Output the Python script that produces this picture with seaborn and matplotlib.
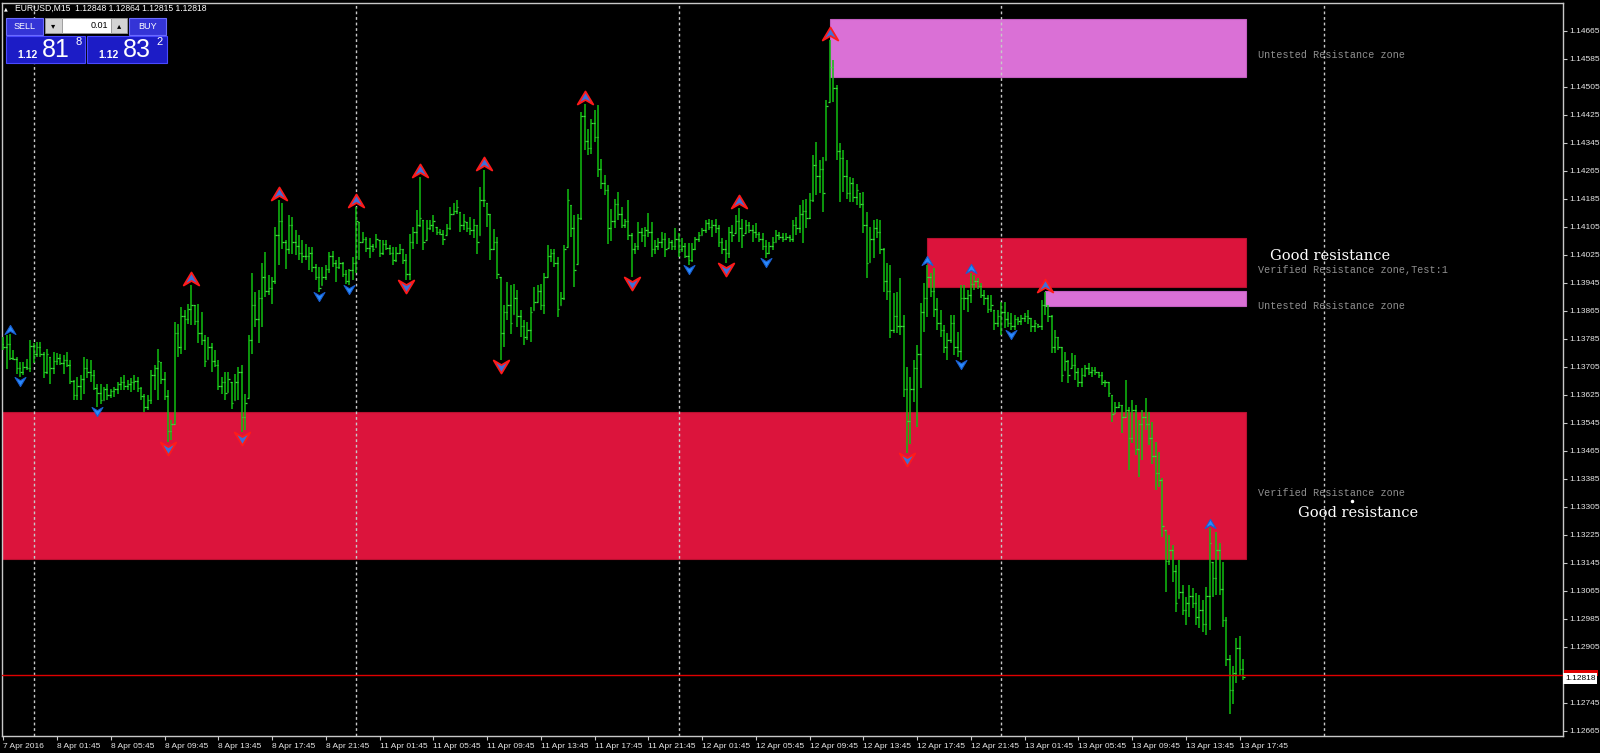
import numpy as np
import pandas as pd
import matplotlib
matplotlib.use("Agg")
import matplotlib.pyplot as plt
from matplotlib.path import Path
from matplotlib.patches import Rectangle
from matplotlib.markers import MarkerStyle
from matplotlib.transforms import blended_transform_factory
import seaborn as sns

# ---------------- data ----------------
symbol_label = "EURUSD,M15"
header_quotes = ["1.12848", "1.12864", "1.12815", "1.12818"]
first_bar_time = "2016-04-07 21:45"
first_open = 1.13770

highs = [
 1.13790, 1.13795, 1.13799, 1.13752, 1.13733, 1.13718, 1.13718, 1.13728, 1.13782, 1.13771,
 1.13775, 1.13775, 1.13747, 1.13756, 1.13733, 1.13747, 1.13744, 1.13742, 1.13737, 1.13747,
 1.13723, 1.13666, 1.13676, 1.13680, 1.13733, 1.13728, 1.13723, 1.13695, 1.13656, 1.13656,
 1.13647, 1.13656, 1.13642, 1.13647, 1.13661, 1.13676, 1.13680, 1.13666, 1.13671, 1.13680,
 1.13676, 1.13647, 1.13628, 1.13623, 1.13695, 1.13709, 1.13756, 1.13718, 1.13690, 1.13637,
 1.13552, 1.13833, 1.13828, 1.13876, 1.13866, 1.13885, 1.13937, 1.13880, 1.13885, 1.13861,
 1.13795, 1.13790, 1.13771, 1.13752, 1.13723, 1.13676, 1.13690, 1.13690, 1.13661, 1.13685,
 1.13704, 1.13709, 1.13628, 1.13795, 1.13971, 1.13918, 1.13923, 1.14000, 1.14033, 1.13966,
 1.13961, 1.14104, 1.14180, 1.14171, 1.14066, 1.14137, 1.14133, 1.14095, 1.14080, 1.14066,
 1.14056, 1.14047, 1.14047, 1.13999, 1.13990, 1.13990, 1.13994, 1.14033, 1.14035, 1.14009,
 1.14018, 1.14004, 1.13980, 1.13985, 1.14018, 1.14161, 1.14118, 1.14090, 1.14075, 1.14071,
 1.14056, 1.14085, 1.14066, 1.14066, 1.14066, 1.14052, 1.14047, 1.14047, 1.14056, 1.14042,
 1.14028, 1.14085, 1.14104, 1.14152, 1.14247, 1.14123, 1.14123, 1.14123, 1.14137, 1.14104,
 1.14099, 1.14094, 1.14113, 1.14161, 1.14171, 1.14180, 1.14147, 1.14142, 1.14118, 1.14133,
 1.14128, 1.14109, 1.14218, 1.14266, 1.14171, 1.14142, 1.14099, 1.14075, 1.13961, 1.13880,
 1.13947, 1.13937, 1.13942, 1.13923, 1.13866, 1.13837, 1.13833, 1.13875, 1.13933, 1.13937,
 1.13942, 1.13971, 1.14052, 1.14042, 1.14042, 1.14018, 1.13918, 1.14052, 1.14213, 1.14166,
 1.14137, 1.14142, 1.14433, 1.14456, 1.14385, 1.14413, 1.14437, 1.14452, 1.14299, 1.14252,
 1.14223, 1.14155, 1.14185, 1.14205, 1.14162, 1.14128, 1.14181, 1.14086, 1.14057, 1.14119,
 1.14100, 1.14105, 1.14143, 1.14119, 1.14067, 1.14071, 1.14090, 1.14086, 1.14071, 1.14067,
 1.14100, 1.14086, 1.14071, 1.14057, 1.14057, 1.14057, 1.14076, 1.14090, 1.14100, 1.14125,
 1.14128, 1.14124, 1.14128, 1.14109, 1.14071, 1.14067, 1.14105, 1.14109, 1.14138, 1.14157,
 1.14128, 1.14124, 1.14119, 1.14109, 1.14114, 1.14090, 1.14086, 1.14067, 1.14062, 1.14076,
 1.14095, 1.14090, 1.14086, 1.14086, 1.14081, 1.14124, 1.14133, 1.14166, 1.14181, 1.14185,
 1.14200, 1.14309, 1.14347, 1.14295, 1.14305, 1.14466, 1.14638, 1.14581, 1.14509, 1.14343,
 1.14324, 1.14295, 1.14247, 1.14243, 1.14228, 1.14200, 1.14205, 1.14147, 1.14105, 1.14124,
 1.14128, 1.14124, 1.14043, 1.14000, 1.13995, 1.13914, 1.13919, 1.13957, 1.13852, 1.13705,
 1.13676, 1.13724, 1.13767, 1.13886, 1.13943, 1.13995, 1.13971, 1.13986, 1.13900, 1.13867,
 1.13824, 1.13800, 1.13852, 1.13852, 1.13805, 1.13938, 1.13938, 1.13924, 1.13971, 1.13967,
 1.13957, 1.13943, 1.13924, 1.13909, 1.13909, 1.13867, 1.13867, 1.13890, 1.13890, 1.13862,
 1.13857, 1.13852, 1.13848, 1.13852, 1.13857, 1.13867, 1.13843, 1.13838, 1.13828, 1.13895,
 1.13919, 1.13881, 1.13852, 1.13809, 1.13790, 1.13762, 1.13748, 1.13724, 1.13743, 1.13738,
 1.13700, 1.13700, 1.13709, 1.13714, 1.13705, 1.13705, 1.13690, 1.13690, 1.13667, 1.13662,
 1.13624, 1.13605, 1.13605, 1.13595, 1.13667, 1.13590, 1.13610, 1.13595, 1.13552, 1.13581,
 1.13614, 1.13576, 1.13548, 1.13490, 1.13462, 1.13386, 1.13238, 1.13224, 1.13195, 1.13138,
 1.13152, 1.13081, 1.13048, 1.13081, 1.13071, 1.13057, 1.13052, 1.13038, 1.13076, 1.13243,
 1.13148, 1.13233, 1.13200, 1.13148, 1.12990, 1.12880, 1.12850, 1.12930, 1.12935, 1.12870,
]

lows = [
 1.13752, 1.13699, 1.13723, 1.13723, 1.13685, 1.13676, 1.13680, 1.13695, 1.13690, 1.13714,
 1.13733, 1.13733, 1.13671, 1.13685, 1.13656, 1.13685, 1.13709, 1.13709, 1.13685, 1.13704,
 1.13656, 1.13609, 1.13609, 1.13609, 1.13628, 1.13671, 1.13661, 1.13637, 1.13590, 1.13599,
 1.13609, 1.13609, 1.13614, 1.13618, 1.13628, 1.13637, 1.13637, 1.13637, 1.13633, 1.13637,
 1.13633, 1.13609, 1.13576, 1.13580, 1.13599, 1.13637, 1.13609, 1.13656, 1.13609, 1.13490,
 1.13495, 1.13542, 1.13733, 1.13742, 1.13752, 1.13828, 1.13823, 1.13823, 1.13771, 1.13766,
 1.13704, 1.13728, 1.13690, 1.13704, 1.13637, 1.13628, 1.13609, 1.13633, 1.13585, 1.13609,
 1.13609, 1.13518, 1.13523, 1.13614, 1.13742, 1.13818, 1.13771, 1.13818, 1.13904, 1.13909,
 1.13885, 1.13942, 1.13995, 1.14042, 1.13985, 1.14028, 1.14028, 1.14023, 1.14009, 1.14000,
 1.14009, 1.13980, 1.13975, 1.13952, 1.13918, 1.13937, 1.13952, 1.13971, 1.13990, 1.13947,
 1.13985, 1.13961, 1.13942, 1.13937, 1.13952, 1.13971, 1.14009, 1.14061, 1.14033, 1.14014,
 1.14033, 1.14047, 1.14018, 1.14023, 1.14037, 1.14023, 1.13994, 1.14004, 1.14028, 1.13999,
 1.13952, 1.13952, 1.14042, 1.14056, 1.14104, 1.14037, 1.14066, 1.14094, 1.14090, 1.14080,
 1.14080, 1.14052, 1.14080, 1.14094, 1.14142, 1.14142, 1.14090, 1.14094, 1.14090, 1.14080,
 1.14071, 1.14028, 1.14080, 1.14161, 1.14104, 1.14009, 1.14037, 1.13956, 1.13723, 1.13761,
 1.13837, 1.13799, 1.13856, 1.13818, 1.13790, 1.13766, 1.13780, 1.13775, 1.13866, 1.13890,
 1.13866, 1.13856, 1.13961, 1.14004, 1.13990, 1.13847, 1.13880, 1.13894, 1.14047, 1.14075,
 1.13933, 1.13999, 1.14123, 1.14323, 1.14309, 1.14313, 1.14347, 1.14247, 1.14213, 1.14194,
 1.14056, 1.14065, 1.14100, 1.14124, 1.14100, 1.14100, 1.14067, 1.13960, 1.14028, 1.14038,
 1.14062, 1.14047, 1.14076, 1.14019, 1.14028, 1.14038, 1.14043, 1.14019, 1.14043, 1.14038,
 1.14038, 1.14019, 1.14033, 1.14014, 1.13995, 1.14005, 1.14038, 1.14062, 1.14081, 1.14086,
 1.14095, 1.14076, 1.14086, 1.14047, 1.14028, 1.14000, 1.14014, 1.14062, 1.14086, 1.14062,
 1.14043, 1.14086, 1.14086, 1.14062, 1.14071, 1.14062, 1.14038, 1.14014, 1.14028, 1.14038,
 1.14062, 1.14067, 1.14062, 1.14067, 1.14062, 1.14062, 1.14081, 1.14086, 1.14057, 1.14100,
 1.14128, 1.14176, 1.14195, 1.14200, 1.14147, 1.14295, 1.14462, 1.14462, 1.14295, 1.14176,
 1.14205, 1.14185, 1.14176, 1.14176, 1.14166, 1.14157, 1.14086, 1.13957, 1.14005, 1.14014,
 1.14071, 1.14028, 1.13919, 1.13895, 1.13786, 1.13800, 1.13800, 1.13795, 1.13619, 1.13457,
 1.13485, 1.13605, 1.13533, 1.13643, 1.13805, 1.13848, 1.13905, 1.13848, 1.13809, 1.13790,
 1.13743, 1.13724, 1.13771, 1.13738, 1.13733, 1.13724, 1.13867, 1.13862, 1.13886, 1.13924,
 1.13928, 1.13900, 1.13881, 1.13857, 1.13862, 1.13809, 1.13819, 1.13795, 1.13814, 1.13819,
 1.13809, 1.13809, 1.13824, 1.13824, 1.13833, 1.13828, 1.13805, 1.13805, 1.13814, 1.13809,
 1.13852, 1.13833, 1.13743, 1.13743, 1.13752, 1.13662, 1.13695, 1.13657, 1.13700, 1.13667,
 1.13648, 1.13648, 1.13676, 1.13681, 1.13676, 1.13681, 1.13671, 1.13652, 1.13648, 1.13619,
 1.13548, 1.13571, 1.13586, 1.13514, 1.13562, 1.13409, 1.13486, 1.13452, 1.13390, 1.13438,
 1.13524, 1.13481, 1.13428, 1.13352, 1.13362, 1.13219, 1.13062, 1.13138, 1.13090, 1.13005,
 1.13043, 1.12995, 1.12967, 1.12990, 1.13014, 1.12967, 1.12957, 1.12948, 1.12938, 1.12952,
 1.13048, 1.13052, 1.13052, 1.12960, 1.12850, 1.12712, 1.12740, 1.12800, 1.12820, 1.12810,
]

closes = [
 1.13760, 1.13770, 1.13730, 1.13728, 1.13700, 1.13690, 1.13705, 1.13700, 1.13765, 1.13740,
 1.13760, 1.13740, 1.13690, 1.13740, 1.13700, 1.13720, 1.13730, 1.13715, 1.13725, 1.13710,
 1.13665, 1.13625, 1.13650, 1.13670, 1.13700, 1.13690, 1.13680, 1.13645, 1.13630, 1.13610,
 1.13640, 1.13625, 1.13635, 1.13640, 1.13655, 1.13660, 1.13650, 1.13655, 1.13660, 1.13665,
 1.13645, 1.13620, 1.13590, 1.13610, 1.13680, 1.13700, 1.13720, 1.13670, 1.13620, 1.13520,
 1.13540, 1.13800, 1.13760, 1.13850, 1.13840, 1.13870, 1.13880, 1.13835, 1.13800, 1.13780,
 1.13720, 1.13760, 1.13720, 1.13710, 1.13650, 1.13660, 1.13630, 1.13670, 1.13600, 1.13660,
 1.13690, 1.13560, 1.13600, 1.13780, 1.13880, 1.13840, 1.13900, 1.13960, 1.13920, 1.13930,
 1.13950, 1.14080, 1.14120, 1.14060, 1.14040, 1.14110, 1.14060, 1.14050, 1.14030, 1.14020,
 1.14020, 1.14030, 1.13990, 1.13960, 1.13930, 1.13960, 1.13985, 1.14020, 1.14000, 1.13990,
 1.14000, 1.13970, 1.13950, 1.13980, 1.14000, 1.14120, 1.14060, 1.14070, 1.14045, 1.14050,
 1.14040, 1.14070, 1.14030, 1.14055, 1.14045, 1.14030, 1.14010, 1.14030, 1.14040, 1.14010,
 1.13970, 1.14060, 1.14090, 1.14110, 1.14130, 1.14060, 1.14100, 1.14110, 1.14120, 1.14090,
 1.14085, 1.14070, 1.14100, 1.14140, 1.14150, 1.14160, 1.14110, 1.14120, 1.14100, 1.14095,
 1.14110, 1.14060, 1.14180, 1.14180, 1.14140, 1.14040, 1.14060, 1.13970, 1.13800, 1.13860,
 1.13880, 1.13830, 1.13900, 1.13850, 1.13820, 1.13790, 1.13810, 1.13860, 1.13890, 1.13920,
 1.13880, 1.13960, 1.14020, 1.14030, 1.14000, 1.13870, 1.13900, 1.14040, 1.14180, 1.14100,
 1.13980, 1.14130, 1.14420, 1.14350, 1.14330, 1.14400, 1.14360, 1.14270, 1.14230, 1.14210,
 1.14100, 1.14120, 1.14170, 1.14140, 1.14110, 1.14120, 1.14080, 1.14040, 1.14050, 1.14090,
 1.14080, 1.14095, 1.14090, 1.14040, 1.14050, 1.14060, 1.14070, 1.14040, 1.14060, 1.14050,
 1.14070, 1.14040, 1.14050, 1.14020, 1.14010, 1.14040, 1.14070, 1.14080, 1.14095, 1.14115,
 1.14105, 1.14110, 1.14100, 1.14060, 1.14040, 1.14030, 1.14090, 1.14080, 1.14120, 1.14100,
 1.14080, 1.14110, 1.14095, 1.14090, 1.14085, 1.14070, 1.14050, 1.14030, 1.14050, 1.14060,
 1.14080, 1.14075, 1.14070, 1.14075, 1.14070, 1.14110, 1.14100, 1.14140, 1.14150, 1.14130,
 1.14180, 1.14280, 1.14250, 1.14270, 1.14200, 1.14450, 1.14560, 1.14500, 1.14320, 1.14300,
 1.14250, 1.14200, 1.14230, 1.14190, 1.14210, 1.14170, 1.14110, 1.14000, 1.14070, 1.14100,
 1.14090, 1.14040, 1.13950, 1.13920, 1.13810, 1.13850, 1.13820, 1.13820, 1.13640, 1.13550,
 1.13640, 1.13700, 1.13740, 1.13860, 1.13900, 1.13960, 1.13920, 1.13870, 1.13830, 1.13810,
 1.13760, 1.13780, 1.13830, 1.13760, 1.13750, 1.13900, 1.13900, 1.13910, 1.13940, 1.13950,
 1.13935, 1.13910, 1.13900, 1.13870, 1.13880, 1.13830, 1.13850, 1.13860, 1.13840, 1.13830,
 1.13820, 1.13840, 1.13835, 1.13845, 1.13850, 1.13845, 1.13820, 1.13830, 1.13820, 1.13880,
 1.13880, 1.13850, 1.13760, 1.13790, 1.13760, 1.13680, 1.13720, 1.13680, 1.13710, 1.13690,
 1.13660, 1.13680, 1.13700, 1.13690, 1.13695, 1.13690, 1.13680, 1.13660, 1.13660, 1.13630,
 1.13570, 1.13590, 1.13595, 1.13560, 1.13580, 1.13500, 1.13580, 1.13470, 1.13540, 1.13560,
 1.13540, 1.13500, 1.13450, 1.13400, 1.13380, 1.13250, 1.13150, 1.13180, 1.13120, 1.13030,
 1.13060, 1.13010, 1.13030, 1.13050, 1.13030, 1.12990, 1.13010, 1.12970, 1.13050, 1.13200,
 1.13100, 1.13180, 1.13070, 1.12980, 1.12870, 1.12780, 1.12830, 1.12900, 1.12840, 1.12818,
]

# fractal arrows (bar indices)
up_big = [56, 82, 105, 124, 143, 173, 219, 246, 310]
up_small = [2, 275, 288, 359]
down_big = [49, 71, 120, 148, 187, 215, 269]
down_small = [5, 28, 94, 103, 204, 227, 285, 300]

# supply/demand zones
zone_from = [-20, 246, 275, 310]
zone_low = [1.13155, 1.14533, 1.13931, 1.13879]
zone_high = [1.13574, 1.14699, 1.14072, 1.13920]
zone_kind = ["verified", "untested", "verified", "untested"]
zone_text = ["Verified Resistance zone", "Untested Resistance zone",
             "Verified Resistance zone,Test:1", "Untested Resistance zone"]

note_text = ["Good resistance", "Good resistance"]
note_bar = [377.0, 385.3]
note_price = [1.14021, 1.13287]
dot_bar, dot_price = 401.5, 1.13321

price_line = 1.12824
bid_label = "1.12818"
tick_start, tick_step, tick_count = 1.12665, 0.0008, 26

sell_big, sell_pip, sell_frac = "1.12", "81", "8"
buy_big, buy_pip, buy_frac = "1.12", "83", "2"
lot_size = "0.01"

# ---------------- style ----------------
sns.set_theme(style="dark", rc={"axes.facecolor": "black", "figure.facecolor": "black"})
plt.rcParams['font.family'] = ['Liberation Sans', 'DejaVu Sans']

W, H, DPI = 1600, 753, 100
fig = plt.figure(figsize=(W / DPI, H / DPI), dpi=DPI)
fig.patch.set_facecolor("black")
AX_L, AX_R, AX_T, AX_B = 2, 1563, 2.7, 736
ax = fig.add_axes([AX_L / W, 1 - AX_B / H, (AX_R - AX_L) / W, (AX_B - AX_T) / H])
ax.set_facecolor("black")
ax.grid(False)

n = len(highs)
xs = np.arange(n)
PX_PER_BAR, X0 = 3.36, 3.3
ax.set_xlim((AX_L - X0) / PX_PER_BAR, (AX_R - X0) / PX_PER_BAR)
P0, PX_PER_PRICE = 1.147524, 35000.0
ax.set_ylim(P0 - AX_B / PX_PER_PRICE, P0 - AX_T / PX_PER_PRICE)
xmin, xmax = ax.get_xlim()

# time index
times = pd.date_range(first_bar_time, "2016-04-15 23:45", freq="15min")
times = times[times.dayofweek < 5]

# zones
zfc = {"verified": "#DC143C", "untested": "#DA70D6"}
zec = {"verified": "#B8102F", "untested": "#C25EC0"}
for start, lo, hi, kind, label in zip(zone_from, zone_low, zone_high, zone_kind, zone_text):
    ax.add_patch(Rectangle((max(start, xmin - 1), lo), n - max(start, xmin - 1), hi - lo,
                           facecolor=zfc[kind], edgecolor=zec[kind], lw=0.8, zorder=1))
    ax.annotate(label, (n + 3.4, (lo + hi) / 2), xytext=(0, -1.5), textcoords="offset points",
                va="top", ha="left", color="#8f8f8f", fontsize=7.3,
                family=["Liberation Mono", "DejaVu Sans Mono"], zorder=6)

# day separators
for i in range(1, len(times)):
    if i > xmax:
        break
    if times[i].date() != times[i - 1].date():
        ax.axvline(i, color="#c8c8c8", lw=1.0, ls=(0, (2, 2)), zorder=2)

# OHLC bars
green = "#10bf10"
opens = np.clip(np.array([first_open] + closes[:-1]), lows, highs)
ax.vlines(xs, lows, highs, colors=green, lw=1.1, zorder=3)
ax.hlines(closes, xs, xs + 0.45, colors="#40d840", lw=0.9, zorder=3)
ax.hlines(opens, xs - 0.45, xs, colors="#40d840", lw=0.9, zorder=3)

# fractal arrows
up_path = Path([(0, 1), (0.6, 0), (0, 0.35), (-0.6, 0), (0, 1)],
               [Path.MOVETO, Path.LINETO, Path.LINETO, Path.LINETO, Path.CLOSEPOLY])
dn_path = Path([(0, -1), (0.6, 0), (0, -0.35), (-0.6, 0), (0, -1)],
               [Path.MOVETO, Path.LINETO, Path.LINETO, Path.LINETO, Path.CLOSEPOLY])
hi_arr, lo_arr = np.array(highs), np.array(lows)
for idx, path, yv in [(up_big, up_path, hi_arr), (down_big, dn_path, lo_arr)]:
    df = pd.DataFrame({"bar": idx, "price": yv[idx]})
    sns.scatterplot(data=df, x="bar", y="price", ax=ax, marker=MarkerStyle(path), s=350,
                    color="#3f6fd8", edgecolor="#ff1a1a", linewidth=1.3, zorder=4, legend=False)
for idx, path, yv in [(up_small, up_path, hi_arr), (down_small, dn_path, lo_arr)]:
    df = pd.DataFrame({"bar": idx, "price": yv[idx]})
    sns.scatterplot(data=df, x="bar", y="price", ax=ax, marker=MarkerStyle(path), s=170,
                    color="#2a8cff", edgecolor="#1a5fd0", linewidth=0.8, zorder=4, legend=False)
ax.set_xlabel("")
ax.set_ylabel("")

# current price line
ax.axhline(price_line, color="#e00000", lw=1.0, zorder=5)

# notes
for t, b, p in zip(note_text, note_bar, note_price):
    ax.text(b, p, t, color="white", fontsize=10.5, family=["DejaVu Serif"], va="center", ha="left", zorder=6)
ax.plot([dot_bar], [dot_price], marker="o", ms=1.5, color="white", zorder=6)

# axes / ticks
ticks = [round(tick_start + tick_step * k, 5) for k in range(tick_count)]
ax.set_yticks(ticks)
ax.set_yticklabels(["" if abs(t - price_line) < 0.0002 else f"{t:.5f}" for t in ticks])
ax.yaxis.tick_right()
xt, xl = [], []
for i in range(n):
    t = times[i]
    if i == 0:
        xt.append(i); xl.append(f"{t.day} {t:%b %Y}")
    elif t.minute == 45 and t.hour % 4 == 1:
        xt.append(i); xl.append(f"{t.day} {t:%b %H:%M}")
ax.set_xticks(xt)
ax.set_xticklabels(xl)
ax.tick_params(axis="both", direction="out", length=3, width=0.8, color="#c8c8c8",
               labelcolor="#e6e6e6", labelsize=6, pad=2)
ax.tick_params(axis="y", pad=1.5)
ax.tick_params(axis="x", bottom=True, top=False)
ax.tick_params(axis="y", right=True, left=False, labelright=True, labelleft=False)
for lab in ax.get_xticklabels():
    lab.set_ha("left")
for s in ax.spines.values():
    s.set_visible(True)
    s.set_color("#c8c8c8")
    s.set_linewidth(1.0)

# current price markers on the price scale
bt = blended_transform_factory(ax.transAxes, ax.transData)
ax.add_patch(Rectangle((1.0008, price_line - 0.00002), 0.0215, 0.00016, transform=bt,
                       facecolor="#e00000", edgecolor="none", zorder=10, clip_on=False))
ax.text(1.0012, price_line, bid_label, transform=bt, va="top", ha="left", fontsize=6,
        color="black", bbox=dict(boxstyle="square,pad=0.2", fc="white", ec="none"),
        zorder=11, clip_on=False)

# ---------------- one-click trading panel ----------------
def R(x0, y0, x1, y1, **kw):
    fig.add_artist(Rectangle((x0 / W, 1 - y1 / H), (x1 - x0) / W, (y1 - y0) / H,
                             transform=fig.transFigure, **kw))

def T(x, y, s, **kw):
    fig.text(x / W, 1 - y / H, s, **kw)

T(6, 8.5, "\u25b2", color="white", fontsize=3.5, va="center", ha="center", family=["DejaVu Sans"])
T(15, 8.5, symbol_label + "  " + " ".join(header_quotes), color="white", fontsize=6.2,
  va="center", ha="left")

R(6, 18, 43, 35, facecolor="#3434d6", edgecolor="#6c6cff", lw=0.8)
T(24.5, 26.5, "SELL", color="white", fontsize=6.5, va="center", ha="center")
R(45, 18, 62, 33, facecolor="#d4d4d4", edgecolor="#9a9a9a", lw=0.6)
T(53.5, 25.5, "\u25be", color="black", fontsize=6, va="center", ha="center", family=["DejaVu Sans"])
R(62, 18, 111, 33, facecolor="white", edgecolor="#9a9a9a", lw=0.6)
T(108, 25.5, lot_size, color="black", fontsize=6.5, va="center", ha="right")
R(111, 18, 127, 33, facecolor="#d4d4d4", edgecolor="#9a9a9a", lw=0.6)
T(119, 25.5, "\u25b4", color="black", fontsize=6, va="center", ha="center", family=["DejaVu Sans"])
R(129, 18, 166, 35, facecolor="#3434d6", edgecolor="#6c6cff", lw=0.8)
T(147.5, 26.5, "BUY", color="white", fontsize=6.5, va="center", ha="center")

for x0, x1, big, pip, frac in [(6, 85, sell_big, sell_pip, sell_frac), (87, 167, buy_big, buy_pip, buy_frac)]:
    R(x0, 36, x1, 63, facecolor="#1c1cc6", edgecolor="#4a4aff", lw=0.8)
    T(x0 + 11, 55, big, color="white", fontsize=7.5, va="center", ha="left", fontweight="bold")
    T(x0 + 36, 50, pip, color="white", fontsize=18, va="center", ha="left")
    T(x0 + 69, 42, frac, color="white", fontsize=8, va="center", ha="left")

fig.savefig("out.png", dpi=DPI, facecolor="black")
